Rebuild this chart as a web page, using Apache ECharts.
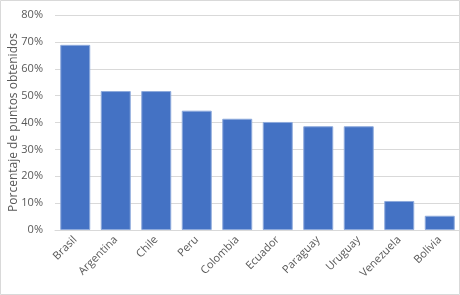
<!DOCTYPE html>
<html><head><meta charset="utf-8">
<script src="https://cdn.jsdelivr.net/npm/echarts@6/dist/echarts.min.js"></script>
<style>html,body{margin:0;padding:0;background:#fff}#c{width:460px;height:295px}</style>
</head><body><div id="c"></div>
<script>
var categories = ['Brasil','Argentina','Chile','Peru','Colombia','Ecuador','Paraguay','Uruguay','Venezuela','Bolivia'];
var values = [68.9, 51.7, 51.7, 44.4, 41.4, 40.2, 38.6, 38.6, 10.8, 5.3];
var yTicks = [0, 10, 20, 30, 40, 50, 60, 70, 80];
var yTitle = 'Porcentaje de puntos obtenidos';

var chart = echarts.init(document.getElementById('c'), null, {renderer: 'canvas'});
var font = '"Open Sans", "Noto Sans", sans-serif';
chart.setOption({
  animation: false,
  textStyle: {fontFamily: font},
  grid: {left: 55, right: 0, top: 15, bottom: 65, containLabel: false, outerBoundsMode: 'none'},
  graphic: [{type: 'rect', shape: {x: 0.5, y: 0.5, width: 459, height: 294}, style: {fill: 'none', stroke: '#d9d9d9', lineWidth: 1}, silent: true}],
  xAxis: {
    type: 'category', data: categories,
    axisLine: {lineStyle: {color: '#d9d9d9'}},
    axisTick: {show: false},
    axisLabel: {rotate: 45, color: '#595959', fontSize: 11, margin: 8, fontFamily: font, interval: 0}
  },
  yAxis: {
    type: 'value', min: yTicks[0], max: yTicks[yTicks.length - 1], interval: 10,
    name: yTitle, nameLocation: 'middle', nameGap: 35, nameMoveOverlap: false,
    nameTextStyle: {color: '#595959', fontSize: 12, fontFamily: font},
    axisLine: {show: false}, axisTick: {show: false},
    splitLine: {lineStyle: {color: '#d9d9d9'}},
    axisLabel: {color: '#595959', fontSize: 11, margin: 12, fontFamily: font, formatter: function (v) { return v + '%'; }}
  },
  series: [{
    type: 'bar', data: values, barCategoryGap: '26%',
    itemStyle: {color: '#4472C4', borderColor: '#8eaadc', borderWidth: 1}
  }]
});
</script></body></html>
